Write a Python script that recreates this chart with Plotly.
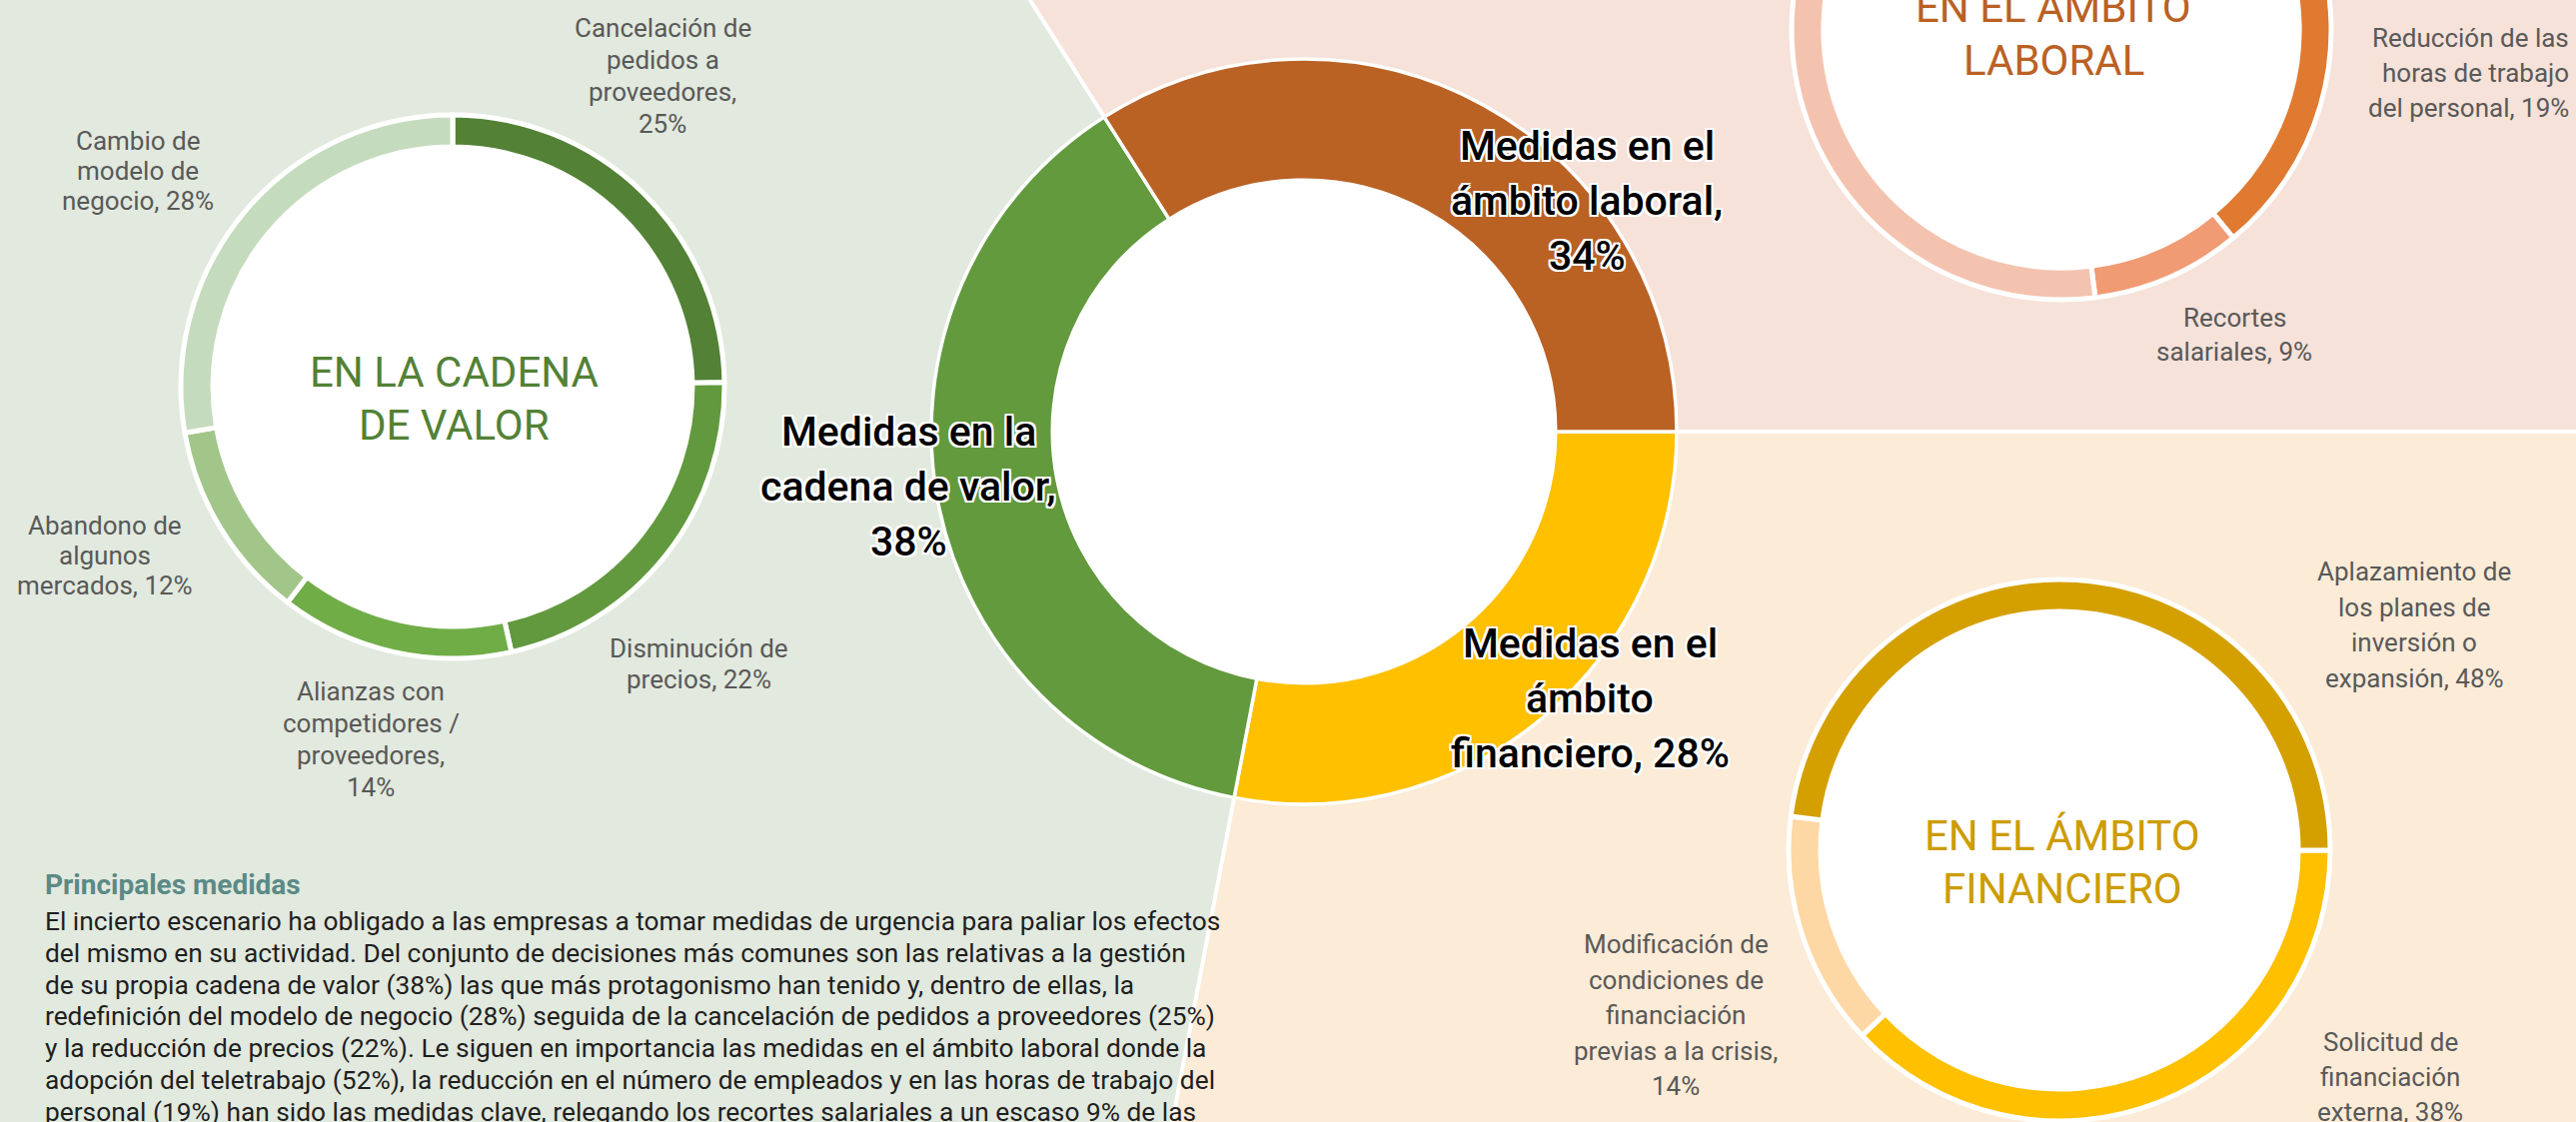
import math
import plotly.graph_objects as go

# ---------------- data ----------------
central_cats = ["Medidas en el ámbito financiero", "Medidas en la cadena de valor", "Medidas en el ámbito laboral"]
central_vals = [28, 38, 34]

cadena_cats = ["Cancelación de pedidos a proveedores", "Disminución de precios",
               "Alianzas con competidores / proveedores", "Abandono de algunos mercados",
               "Cambio de modelo de negocio"]
cadena_vals = [25, 22, 14, 12, 28]

laboral_cats = ["Reducción del número de empleados", "Reducción de las horas de trabajo del personal",
                "Recortes salariales", "Adopción del teletrabajo"]
laboral_vals = [20, 19, 9, 52]

fin_cats = ["Solicitud de financiación externa",
            "Modificación de condiciones de financiación previas a la crisis",
            "Aplazamiento de los planes de inversión o expansión"]
fin_vals = [38, 14, 48]

titles = ["EN LA CADENA<br>DE VALOR", "EN EL ÁMBITO<br>LABORAL", "EN EL ÁMBITO<br>FINANCIERO"]

heading = "Principales medidas"
paragraph = [
    "El incierto escenario ha obligado a las empresas a tomar medidas de urgencia para paliar los efectos",
    "del mismo en su actividad. Del conjunto de decisiones más comunes son las relativas a la gestión",
    "de su propia cadena de valor (38%) las que más protagonismo han tenido y, dentro de ellas, la",
    "redefinición del modelo de negocio (28%) seguida de la cancelación de pedidos a proveedores (25%)",
    "y la reducción de precios (22%). Le siguen en importancia las medidas en el ámbito laboral donde la",
    "adopción del teletrabajo (52%), la reducción en el número de empleados y en las horas de trabajo del",
    "personal (19%) han sido las medidas clave, relegando los recortes salariales a un escaso 9% de las",
]

# ---------------- styling / layout ----------------
W, H, T = 2578, 1123, 260
HF = H + T
FONT = "Roboto, Arial, sans-serif"
LABEL_COLOR = "#595959"

central_colors = ["#FFC000", "#629A3D", "#BA6124"]
bg_colors = ["#FBEBD7", "#E2E9DE", "#F6E2D9"]
cadena_colors = ["#538135", "#62993E", "#70AD47", "#A2C68A", "#C5DBBD"]
laboral_colors = ["#C55A11", "#E07A31", "#F19B74", "#F4C3AF"]
fin_colors = ["#FFC000", "#FDD8A4", "#D4A000"]
title_colors = ["#538135", "#BA6124", "#CC9C00"]

C_CENTRAL = (1305, 432, 373, 0.675)
C_CADENA = (453, 387, 272, 0.882)
C_LABORAL = (2063, 30, 270, 0.882)
C_FIN = (2061, 851, 271, 0.882)


def dom(c):
    cx, cy, r, _ = c
    return dict(x=[(cx - r) / W, (cx + r) / W],
                y=[max(0.0, (H - cy - r) / HF), min(1.0, (H - cy + r) / HF)])


fig = go.Figure()
fig.add_trace(go.Scatter(x=[], y=[], showlegend=False, hoverinfo="skip"))


def add_pie(c, cats, vals, colors, rotation, lw):
    fig.add_trace(go.Pie(
        labels=cats, values=vals, sort=False, direction="clockwise", rotation=rotation,
        hole=c[3], domain=dom(c), textinfo="none", hoverinfo="label+percent",
        marker=dict(colors=colors, line=dict(color="white", width=lw)), showlegend=False))


add_pie(C_CENTRAL, central_cats, central_vals, central_colors, 90, 3.5)
add_pie(C_CADENA, cadena_cats, cadena_vals, cadena_colors, 0, 5)
add_pie(C_LABORAL, laboral_cats, laboral_vals, laboral_colors, 0, 5)
add_pie(C_FIN, fin_cats, fin_vals, fin_colors, 90, 5)

# ---- background sectors derived from the central pie's slice boundaries ----
shapes = []
cx, cy = C_CENTRAL[0], C_CENTRAL[1]
tot = sum(central_vals)
bounds = [90.0]
for v in central_vals:
    bounds.append(bounds[-1] + 360.0 * v / tot)
R = 20000


def far(a):
    a = math.radians(a)
    return cx + R * math.sin(a), cy - R * math.cos(a)


for i in range(len(central_vals)):
    a0, a1 = bounds[i], bounds[i + 1]
    n = max(2, int((a1 - a0) / 20) + 2)
    pts = [(cx, cy)] + [far(a0 + (a1 - a0) * k / (n - 1)) for k in range(n)]
    path = "M " + " L ".join(f"{x:.1f},{y:.1f}" for x, y in pts) + " Z"
    shapes.append(dict(type="path", path=path, xref="x", yref="y", layer="below",
                       fillcolor=bg_colors[i], line=dict(width=0)))
for a in bounds[:-1]:
    x1, y1 = far(a)
    shapes.append(dict(type="line", x0=cx, y0=cy, x1=x1, y1=y1, xref="x", yref="y",
                       layer="below", line=dict(color="white", width=4)))
for c in (C_CENTRAL, C_CADENA, C_LABORAL, C_FIN):
    rh = c[2] * c[3] + 2
    shapes.append(dict(type="circle", x0=c[0] - rh, x1=c[0] + rh, y0=c[1] - rh, y1=c[1] + rh,
                       xref="x", yref="y", layer="below", fillcolor="white", line=dict(width=0)))

annotations = []


def lines_for(cat, val, spec):
    words = cat.split() + [f"{val}%"]
    words[-2] = words[-2] + ","
    out, k = [], 0
    for n in spec:
        out.append(" ".join(words[k:k + n]))
        k += n
    return out


def add_lines(lines, x, y0, dy, size, color, xanchor="center", weight="normal", shadow=None):
    for i, ln in enumerate(lines):
        f = dict(family=FONT, size=size, color=color, weight=weight)
        if shadow:
            f["shadow"] = shadow
        annotations.append(dict(x=x, y=y0 + i * dy, xref="x", yref="y", text=ln, showarrow=False,
                                xanchor=xanchor, yanchor="middle", font=f))


# central labels
SH = ("-2px -2px 0 #fff, 2px -2px 0 #fff, -2px 2px 0 #fff, 2px 2px 0 #fff, "
      "0 -2px 0 #fff, 0 2px 0 #fff, -2px 0 0 #fff, 2px 0 0 #fff")
central_pos = [(1591, 644, [3, 1, 2]), (909, 432, [3, 3, 1]), (1588, 146, [3, 2, 1])]
for cat, val, (x, y, spec) in zip(central_cats, central_vals, central_pos):
    add_lines(lines_for(cat, val, spec), x, y, 55, 41, "#000000", weight=500, shadow=SH)

# small donut labels
cadena_pos = [(663, 28, 32, [2, 2, 1, 1]), (699, 649, 31, [2, 2]), (371, 692, 32, [2, 2, 1, 1]),
              (105, 526, 30, [2, 1, 2]), (138, 141, 30, [2, 2, 2])]
for cat, val, (x, y, dy, spec) in zip(cadena_cats, cadena_vals, cadena_pos):
    add_lines(lines_for(cat, val, spec), x, y, dy, 26, LABEL_COLOR)

laboral_pos = [None, (2573, 38, 35, [3, 3, 3], "right"), (2236, 318, 34, [1, 2], "center"), None]
for cat, val, p in zip(laboral_cats, laboral_vals, laboral_pos):
    if p:
        x, y, dy, spec, anc = p
        add_lines(lines_for(cat, val, spec), x, y, dy, 26, LABEL_COLOR, xanchor=anc)

fin_pos = [(2392, 1043, 35, [2, 1, 2]), (1677, 945, 35.5, [2, 2, 1, 4, 1]), (2416, 572, 35.5, [2, 3, 2, 2])]
for cat, val, (x, y, dy, spec) in zip(fin_cats, fin_vals, fin_pos):
    add_lines(lines_for(cat, val, spec), x, y, dy, 26, LABEL_COLOR)

# titles inside the small donuts
title_pos = [(454, 372, 53), (2055, 7, 53), (2064, 836, 53)]
for t, col, (x, y, dy) in zip(titles, title_colors, title_pos):
    add_lines(t.split("<br>"), x, y, dy, 42, col)

# text block
add_lines([heading], 43, 885, 0, 28, "#5B8A86", xanchor="left", weight="bold")
add_lines(paragraph, 43, 922, 31.8, 26.3, "#1F1F1F", xanchor="left")

fig.update_layout(
    width=W, height=HF, margin=dict(l=0, r=0, t=0, b=0, pad=0),
    paper_bgcolor="white", plot_bgcolor="white", showlegend=False,
    xaxis=dict(range=[0, W], visible=False, fixedrange=True),
    yaxis=dict(range=[H, -T], visible=False, fixedrange=True),
    shapes=shapes, annotations=annotations, font=dict(family=FONT),
)

post = (f"var gd=document.getElementById('{{plot_id}}');"
        f"document.body.style.margin='0';document.body.style.overflow='hidden';"
        f"gd.style.marginTop='-{T}px';")
fig.write_html("out.html", post_script=post, config={"displayModeBar": False})
